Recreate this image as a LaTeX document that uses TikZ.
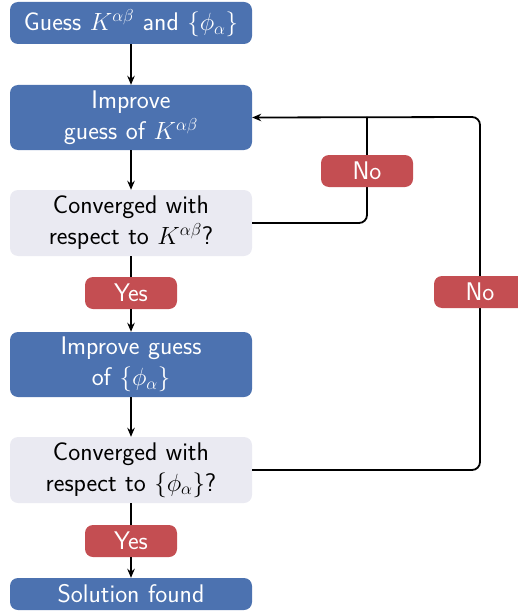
\documentclass[tikz,border=0pt]{standalone}
\usetikzlibrary{arrows.meta}
\definecolor{sbblue}{HTML}{4C72B0}
\definecolor{sbred}{HTML}{C44E52}
\definecolor{sbgrey}{HTML}{EAEAF2}
\begin{document}
\begin{tikzpicture}[x=1pt,y=-1pt,
  font=\sffamily\fontsize{25.5}{31}\selectfont,
  base/.style={rectangle, rounded corners=8pt, inner sep=0pt, align=center, minimum width=242pt, text width=236pt},
  bluebox/.style={base, fill=sbblue, text=white},
  greybox/.style={base, fill=sbgrey, text=black},
  tagbox/.style={rectangle, rounded corners=8pt, inner sep=0pt, fill=sbred, text=white, minimum width=92pt, minimum height=32pt},
  conn/.style={line width=1.8pt, draw=black},
  arr/.style={conn, -{Stealth[length=9pt,width=7.5pt]}}]
\useasboundingbox (0,0) rectangle (518,615);
\node[bluebox, minimum height=42pt] (b1) at (131,23) {Guess $K^{\alpha\beta}$ and $\{\phi_\alpha\}$};
\node[bluebox, minimum height=65pt] (b2) at (131,117.5) {Improve\\guess of $K^{\alpha\beta}$};
\node[greybox, minimum height=66pt] (b3) at (131,223) {Converged with\\respect to $K^{\alpha\beta}$?};
\node[tagbox] (y1) at (131,293) {Yes};
\node[bluebox, minimum height=65pt] (b4) at (131,364.5) {Improve guess\\of $\{\phi_\alpha\}$};
\node[greybox, minimum height=66pt] (b5) at (131,470) {Converged with\\respect to $\{\phi_\alpha\}$?};
\node[tagbox] (y2) at (131,541) {Yes};
\node[bluebox, minimum height=32pt] (b6) at (131,594) {Solution found};
\coordinate (in1) at (367,223);
\coordinate (in2) at (367,117);
\coordinate (out1) at (480,470);
\coordinate (out2) at (480,117);
\draw[arr] (b1) -- (b2);
\draw[arr] (b2) -- (b3);
\draw[conn] (b3) -- (y1);
\draw[arr] (y1) -- (b4);
\draw[arr] (b4) -- (b5);
\draw[conn] (b5) -- (y2);
\draw[arr] (y2) -- (b6);
\draw[conn, rounded corners=8pt] (b3.east) -- (in1) -- (in2);
\draw[arr, rounded corners=8pt] (b5.east) -- (out1) -- (out2) -- (b2.east);
\node[tagbox] (n1) at (367,171) {No};
\node[tagbox] (n2) at (480,292) {No};
\end{tikzpicture}
\end{document}
